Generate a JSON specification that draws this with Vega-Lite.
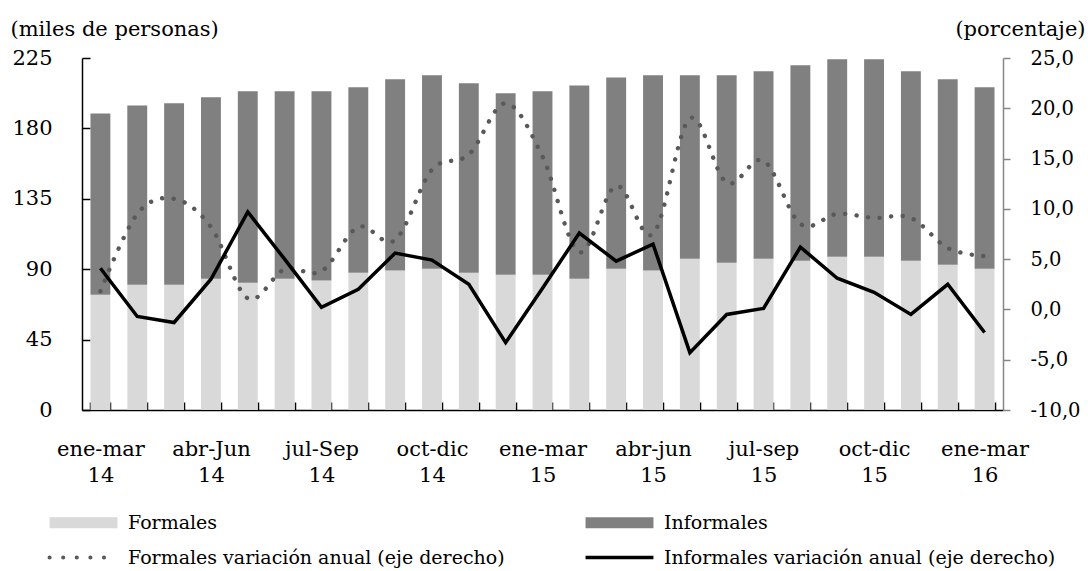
{
  "$schema": "https://vega.github.io/schema/vega-lite/v6.json",
  "width": 921,
  "height": 352,
  "autosize": {"type": "none"},
  "padding": {"left": 82, "top": 58, "right": 85, "bottom": 161},
  "background": "white",
  "config": {
    "view": {"stroke": null},
    "font": "DejaVu Serif",
    "axis": {
      "grid": false,
      "labelFont": "DejaVu Serif",
      "labelFontSize": 21,
      "labelColor": "#000000",
      "titleFont": "DejaVu Serif",
      "titleFontSize": 21,
      "titleFontWeight": "normal",
      "titleColor": "#000000"
    },
    "legend": {
      "labelFont": "DejaVu Serif",
      "labelFontSize": 19,
      "labelColor": "#000000"
    }
  },
  "datasets": {
    "empleo": [
      {"periodo": "ene-mar 14", "serie": "Formales", "valor": 73.7},
      {"periodo": "ene-mar 14", "serie": "Informales", "valor": 115.9},
      {"periodo": "feb-abr 14", "serie": "Formales", "valor": 80.1},
      {"periodo": "feb-abr 14", "serie": "Informales", "valor": 114.6},
      {"periodo": "mar-may 14", "serie": "Formales", "valor": 80.1},
      {"periodo": "mar-may 14", "serie": "Informales", "valor": 115.9},
      {"periodo": "abr-Jun 14", "serie": "Formales", "valor": 83.9},
      {"periodo": "abr-Jun 14", "serie": "Informales", "valor": 116.0},
      {"periodo": "may-jul 14", "serie": "Formales", "valor": 81.4},
      {"periodo": "may-jul 14", "serie": "Informales", "valor": 122.3},
      {"periodo": "jun-ago 14", "serie": "Formales", "valor": 83.9},
      {"periodo": "jun-ago 14", "serie": "Informales", "valor": 119.8},
      {"periodo": "jul-Sep 14", "serie": "Formales", "valor": 82.7},
      {"periodo": "jul-Sep 14", "serie": "Informales", "valor": 121.0},
      {"periodo": "ago-oct 14", "serie": "Formales", "valor": 87.8},
      {"periodo": "ago-oct 14", "serie": "Informales", "valor": 118.5},
      {"periodo": "sep-nov 14", "serie": "Formales", "valor": 89.1},
      {"periodo": "sep-nov 14", "serie": "Informales", "valor": 122.3},
      {"periodo": "oct-dic 14", "serie": "Formales", "valor": 90.3},
      {"periodo": "oct-dic 14", "serie": "Informales", "valor": 123.7},
      {"periodo": "nov-ene 15", "serie": "Formales", "valor": 87.8},
      {"periodo": "nov-ene 15", "serie": "Informales", "valor": 121.0},
      {"periodo": "dic-feb 15", "serie": "Formales", "valor": 86.5},
      {"periodo": "dic-feb 15", "serie": "Informales", "valor": 115.9},
      {"periodo": "ene-mar 15", "serie": "Formales", "valor": 86.5},
      {"periodo": "ene-mar 15", "serie": "Informales", "valor": 117.2},
      {"periodo": "feb-abr 15", "serie": "Formales", "valor": 83.9},
      {"periodo": "feb-abr 15", "serie": "Informales", "valor": 123.6},
      {"periodo": "mar-may 15", "serie": "Formales", "valor": 90.3},
      {"periodo": "mar-may 15", "serie": "Informales", "valor": 122.3},
      {"periodo": "abr-jun 15", "serie": "Formales", "valor": 89.1},
      {"periodo": "abr-jun 15", "serie": "Informales", "valor": 124.9},
      {"periodo": "may-jul 15", "serie": "Formales", "valor": 96.7},
      {"periodo": "may-jul 15", "serie": "Informales", "valor": 117.3},
      {"periodo": "jun-ago 15", "serie": "Formales", "valor": 94.2},
      {"periodo": "jun-ago 15", "serie": "Informales", "valor": 119.8},
      {"periodo": "jul-sep 15", "serie": "Formales", "valor": 96.7},
      {"periodo": "jul-sep 15", "serie": "Informales", "valor": 119.8},
      {"periodo": "ago-oct 15", "serie": "Formales", "valor": 95.4},
      {"periodo": "ago-oct 15", "serie": "Informales", "valor": 124.9},
      {"periodo": "sep-nov 15", "serie": "Formales", "valor": 98.0},
      {"periodo": "sep-nov 15", "serie": "Informales", "valor": 126.2},
      {"periodo": "oct-dic 15", "serie": "Formales", "valor": 98.0},
      {"periodo": "oct-dic 15", "serie": "Informales", "valor": 126.2},
      {"periodo": "nov-ene 16", "serie": "Formales", "valor": 95.4},
      {"periodo": "nov-ene 16", "serie": "Informales", "valor": 121.1},
      {"periodo": "dic-feb 16", "serie": "Formales", "valor": 92.9},
      {"periodo": "dic-feb 16", "serie": "Informales", "valor": 118.5},
      {"periodo": "ene-mar 16", "serie": "Formales", "valor": 90.3},
      {"periodo": "ene-mar 16", "serie": "Informales", "valor": 116.0}
    ],
    "variacion": [
      {"periodo": "ene-mar 14", "serie": "Formales variación anual (eje derecho)", "var": 1.8},
      {"periodo": "feb-abr 14", "serie": "Formales variación anual (eje derecho)", "var": 9.5},
      {"periodo": "mar-may 14", "serie": "Formales variación anual (eje derecho)", "var": 11.0},
      {"periodo": "abr-Jun 14", "serie": "Formales variación anual (eje derecho)", "var": 8.2},
      {"periodo": "may-jul 14", "serie": "Formales variación anual (eje derecho)", "var": 1.1},
      {"periodo": "jun-ago 14", "serie": "Formales variación anual (eje derecho)", "var": 4.0},
      {"periodo": "jul-Sep 14", "serie": "Formales variación anual (eje derecho)", "var": 3.8},
      {"periodo": "ago-oct 14", "serie": "Formales variación anual (eje derecho)", "var": 8.2},
      {"periodo": "sep-nov 14", "serie": "Formales variación anual (eje derecho)", "var": 6.9},
      {"periodo": "oct-dic 14", "serie": "Formales variación anual (eje derecho)", "var": 13.9},
      {"periodo": "nov-ene 15", "serie": "Formales variación anual (eje derecho)", "var": 15.4},
      {"periodo": "dic-feb 15", "serie": "Formales variación anual (eje derecho)", "var": 20.5},
      {"periodo": "ene-mar 15", "serie": "Formales variación anual (eje derecho)", "var": 15.2},
      {"periodo": "feb-abr 15", "serie": "Formales variación anual (eje derecho)", "var": 5.7},
      {"periodo": "mar-may 15", "serie": "Formales variación anual (eje derecho)", "var": 12.3},
      {"periodo": "abr-jun 15", "serie": "Formales variación anual (eje derecho)", "var": 7.5},
      {"periodo": "may-jul 15", "serie": "Formales variación anual (eje derecho)", "var": 19.0},
      {"periodo": "jun-ago 15", "serie": "Formales variación anual (eje derecho)", "var": 12.6},
      {"periodo": "jul-sep 15", "serie": "Formales variación anual (eje derecho)", "var": 14.8},
      {"periodo": "ago-oct 15", "serie": "Formales variación anual (eje derecho)", "var": 8.5},
      {"periodo": "sep-nov 15", "serie": "Formales variación anual (eje derecho)", "var": 9.5},
      {"periodo": "oct-dic 15", "serie": "Formales variación anual (eje derecho)", "var": 9.1},
      {"periodo": "nov-ene 16", "serie": "Formales variación anual (eje derecho)", "var": 9.1},
      {"periodo": "dic-feb 16", "serie": "Formales variación anual (eje derecho)", "var": 6.1},
      {"periodo": "ene-mar 16", "serie": "Formales variación anual (eje derecho)", "var": 5.3},
      {"periodo": "ene-mar 14", "serie": "Informales variación anual (eje derecho)", "var": 4.1},
      {"periodo": "feb-abr 14", "serie": "Informales variación anual (eje derecho)", "var": -0.7},
      {"periodo": "mar-may 14", "serie": "Informales variación anual (eje derecho)", "var": -1.3},
      {"periodo": "abr-Jun 14", "serie": "Informales variación anual (eje derecho)", "var": 3.0},
      {"periodo": "may-jul 14", "serie": "Informales variación anual (eje derecho)", "var": 9.7},
      {"periodo": "jun-ago 14", "serie": "Informales variación anual (eje derecho)", "var": 5.0},
      {"periodo": "jul-Sep 14", "serie": "Informales variación anual (eje derecho)", "var": 0.2},
      {"periodo": "ago-oct 14", "serie": "Informales variación anual (eje derecho)", "var": 2.0},
      {"periodo": "sep-nov 14", "serie": "Informales variación anual (eje derecho)", "var": 5.6},
      {"periodo": "oct-dic 14", "serie": "Informales variación anual (eje derecho)", "var": 4.9},
      {"periodo": "nov-ene 15", "serie": "Informales variación anual (eje derecho)", "var": 2.5},
      {"periodo": "dic-feb 15", "serie": "Informales variación anual (eje derecho)", "var": -3.3},
      {"periodo": "ene-mar 15", "serie": "Informales variación anual (eje derecho)", "var": 2.1},
      {"periodo": "feb-abr 15", "serie": "Informales variación anual (eje derecho)", "var": 7.6},
      {"periodo": "mar-may 15", "serie": "Informales variación anual (eje derecho)", "var": 4.8},
      {"periodo": "abr-jun 15", "serie": "Informales variación anual (eje derecho)", "var": 6.5},
      {"periodo": "may-jul 15", "serie": "Informales variación anual (eje derecho)", "var": -4.3},
      {"periodo": "jun-ago 15", "serie": "Informales variación anual (eje derecho)", "var": -0.5},
      {"periodo": "jul-sep 15", "serie": "Informales variación anual (eje derecho)", "var": 0.1},
      {"periodo": "ago-oct 15", "serie": "Informales variación anual (eje derecho)", "var": 6.2},
      {"periodo": "sep-nov 15", "serie": "Informales variación anual (eje derecho)", "var": 3.1},
      {"periodo": "oct-dic 15", "serie": "Informales variación anual (eje derecho)", "var": 1.7},
      {"periodo": "nov-ene 16", "serie": "Informales variación anual (eje derecho)", "var": -0.5},
      {"periodo": "dic-feb 16", "serie": "Informales variación anual (eje derecho)", "var": 2.5},
      {"periodo": "ene-mar 16", "serie": "Informales variación anual (eje derecho)", "var": -2.3}
    ]
  },
  "layer": [
    {
      "data": {"name": "empleo"},
      "mark": {"type": "bar"},
      "encoding": {
        "x": {
          "field": "periodo",
          "type": "nominal",
          "sort": null,
          "scale": {"paddingInner": 0.46, "paddingOuter": 0.23},
          "axis": {
            "title": null,
            "tickBand": "extent",
            "tickSize": -8,
            "tickColor": "#000000",
            "tickWidth": 1.5,
            "domainColor": "#000000",
            "domainWidth": 1.5,
            "labelAngle": 0,
            "labelPadding": 36,
            "labelLineHeight": 26.5,
            "labelOverlap": false,
            "labelExpr": "indexof(['ene-mar','abr-jun','jul-sep','oct-dic'], lower(split(datum.value, ' ')[0])) >= 0 ? split(datum.value, ' ') : ''"
          }
        },
        "y": {
          "field": "valor",
          "type": "quantitative",
          "stack": "zero",
          "scale": {"domain": [0, 225], "nice": false, "zero": true},
          "axis": {
            "values": [0, 45, 90, 135, 180, 225],
            "tickSize": -8,
            "tickColor": "#000000",
            "tickWidth": 1.5,
            "domainColor": "#000000",
            "domainWidth": 1.5,
            "labelPadding": 38,
            "title": "(miles de personas)",
            "titleAngle": 0,
            "titleAlign": "left",
            "titleBaseline": "alphabetic",
            "titleX": -72,
            "titleY": -23
          }
        },
        "color": {
          "field": "serie",
          "type": "nominal",
          "scale": {
            "domain": ["Formales", "Informales", "Formales variación anual (eje derecho)", "Informales variación anual (eje derecho)"],
            "range": ["#d9d9d9", "#808080", "#595959", "#000000"]
          },
          "legend": {
            "title": null,
            "orient": "none",
            "legendX": -8,
            "legendY": 455,
            "columns": 2,
            "direction": "horizontal",
            "padding": 0,
            "rowPadding": 15,
            "columnPadding": 73,
            "symbolSize": 576,
            "labelOffset": 35,
            "labelLimit": 700,
            "symbolType": "M-2.83,-0.46H2.83V0.46H-2.83Z",
            "encode": {
              "symbols": {
                "update": {
                  "shape": {"signal": "(datum.value == 'Formales' || datum.value == 'Informales') ? 'M-2.83,-0.46H2.83V0.46H-2.83Z' : 'M-2.83,0H2.83'"},
                  "fill": {"signal": "datum.value == 'Formales' ? '#d9d9d9' : (datum.value == 'Informales' ? '#808080' : 'transparent')"},
                  "stroke": {"signal": "datum.value == 'Formales variación anual (eje derecho)' ? '#595959' : (datum.value == 'Informales variación anual (eje derecho)' ? '#000000' : 'transparent')"},
                  "strokeWidth": {"signal": "datum.value == 'Formales variación anual (eje derecho)' ? 4 : (datum.value == 'Informales variación anual (eje derecho)' ? 3.5 : 0)"},
                  "strokeDash": {"signal": "datum.value == 'Formales variación anual (eje derecho)' ? [0.1, 13.5] : [1, 0]"},
                  "strokeCap": {"signal": "datum.value == 'Formales variación anual (eje derecho)' ? 'round' : 'butt'"},
                  "opacity": {"value": 1},
                  "fillOpacity": {"value": 1},
                  "strokeOpacity": {"value": 1}
                }
              }
            }
          }
        },
        "order": {"field": "serie", "sort": "ascending"}
      }
    },
    {
      "data": {"name": "variacion"},
      "encoding": {
        "x": {"field": "periodo", "type": "nominal", "sort": null},
        "y": {
          "field": "var",
          "type": "quantitative",
          "scale": {"domain": [-10, 25], "nice": false, "zero": false},
          "axis": {
            "orient": "right",
            "values": [-10, -5, 0, 5, 10, 15, 20, 25],
            "tickSize": 7,
            "tickColor": "#868686",
            "tickWidth": 1.5,
            "domainColor": "#868686",
            "domainWidth": 1.5,
            "labelPadding": 20,
            "labelFontSize": 19.5,
            "labelExpr": "replace(replace(format(datum.value, '.1f'), '.', ','), '\u2212', '-')",
            "title": "(porcentaje)",
            "titleAngle": 0,
            "titleAlign": "right",
            "titleBaseline": "alphabetic",
            "titleX": 82,
            "titleY": -23
          }
        },
        "color": {"field": "serie", "type": "nominal"}
      },
      "layer": [
        {
          "transform": [{"filter": "datum.serie == 'Formales variación anual (eje derecho)'"}],
          "mark": {"type": "line", "interpolate": "cardinal", "strokeWidth": 4.4, "strokeDash": [0.1, 11.5], "strokeCap": "round"}
        },
        {
          "transform": [{"filter": "datum.serie == 'Informales variación anual (eje derecho)'"}],
          "mark": {"type": "line", "strokeWidth": 3.5, "strokeJoin": "miter"}
        }
      ]
    }
  ],
  "resolve": {"scale": {"y": "independent"}}
}
